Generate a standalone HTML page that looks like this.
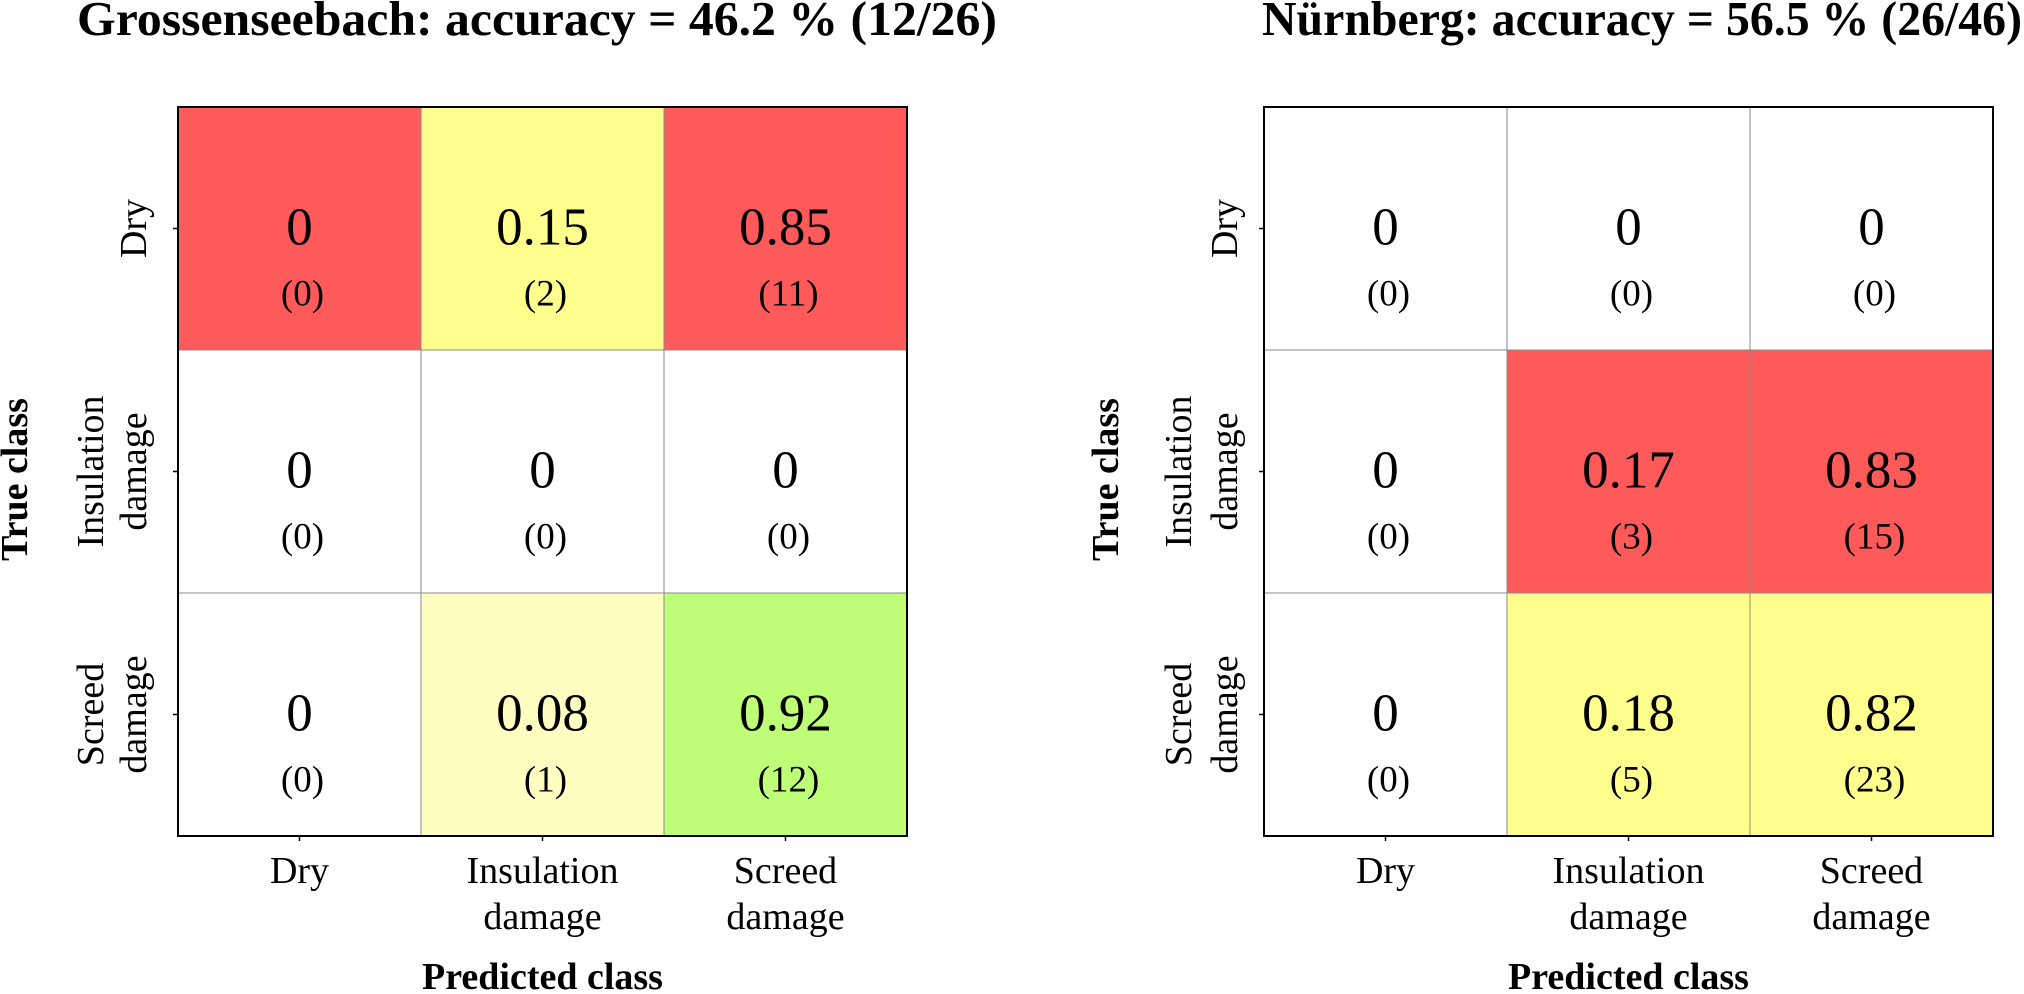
<!DOCTYPE html>
<html><head><meta charset="utf-8"><style>
html,body{margin:0;padding:0;background:#fff;}
svg{display:block;font-family:"Liberation Serif",serif;}
</style></head><body>
<svg id="chart" width="2024" height="994" viewBox="0 0 2024 994"></svg>
<script>
const classes = ["Dry", "Insulation damage", "Screed damage"];
const titlesArr = ["Grossenseebach: accuracy = 46.2 % (12/26)", "Nürnberg: accuracy = 56.5 % (26/46)"];
const ratiosA = [[0, 0.15, 0.85], [0, 0, 0], [0, 0.08, 0.92]];
const countsA = [[0, 2, 11], [0, 0, 0], [0, 1, 12]];
const colorsA = [["#ff5a5a", "#ffff8e", "#ff5a5a"], ["#ffffff", "#ffffff", "#ffffff"], ["#ffffff", "#ffffc2", "#bfff78"]];
const ratiosB = [[0, 0, 0], [0, 0.17, 0.83], [0, 0.18, 0.82]];
const countsB = [[0, 0, 0], [0, 3, 15], [0, 5, 23]];
const colorsB = [["#ffffff", "#ffffff", "#ffffff"], ["#ffffff", "#ff5a5a", "#ff5a5a"], ["#ffffff", "#ffff8e", "#ffff8e"]];

const NS = "http://www.w3.org/2000/svg";
const svg = document.getElementById("chart");
function mk(tag, attrs, parent, text) {
  const e = document.createElementNS(NS, tag);
  for (const k in attrs) e.setAttribute(k, attrs[k]);
  if (text !== undefined) e.textContent = text;
  (parent || svg).appendChild(e);
  return e;
}
function fmt(v) { return v === 0 ? "0" : v.toFixed(2); }

const panels = [
  {x0: 178, title: titlesArr[0], tx: 77, tw: 920, ratios: ratiosA, counts: countsA, colors: colorsA, yl1: 103, yl2: 146, ylab: 27},
  {x0: 1264, title: titlesArr[1], tx: 1262, tw: 760, ratios: ratiosB, counts: countsB, colors: colorsB, yl1: 1191, yl2: 1237, ylab: 1118}
];
const y0 = 107, size = 729, n = classes.length, cell = size / n;

panels.forEach((p, pi) => {
  const g = mk("g", {});
  
  
  const xs = i => p.x0 + i * cell;
  const ys = j => y0 + j * cell;

  const t = mk("text", {x: p.tx, y: 35, "font-size": 49, "font-weight": "bold", textLength: p.tw, lengthAdjust: "spacingAndGlyphs"}, g, p.title);
  
  

  for (let r = 0; r < n; r++) for (let c = 0; c < n; c++) {
    const rect = mk("rect", {x: xs(c), y: ys(r), width: cell, height: cell, fill: p.colors[r][c], stroke: "#888", "stroke-width": 1}, g);
    
    
    const cx = xs(c) + cell / 2, cy = ys(r) + cell / 2;
    const v = mk("text", {x: cx, y: cy + 16, "font-size": 53, "text-anchor": "middle"}, g, fmt(p.ratios[r][c]));
    
    
    const ct = mk("text", {x: cx + 3, y: cy + 77, "font-size": 37, "text-anchor": "middle"}, g, "(" + p.counts[r][c] + ")");
    
    
  }
  const border = mk("rect", {x: p.x0, y: y0, width: size, height: size, fill: "none", stroke: "#000", "stroke-width": 2}, g);
  
  

  classes.forEach((name, i) => {
    const cx = xs(i) + cell / 2, cy = ys(i) + cell / 2;
    mk("line", {x1: cx, y1: y0 + size, x2: cx, y2: y0 + size + 5, stroke: "#000", "stroke-width": 1.5}, g);
    mk("line", {x1: p.x0 - 5, y1: cy, x2: p.x0, y2: cy, stroke: "#000", "stroke-width": 1.5}, g);
    const parts = name.split(" ");
    const xl = mk("text", {x: cx, y: 883, "font-size": 38, "text-anchor": "middle"}, g);
    
    
    parts.forEach((w, k) => mk("tspan", {x: cx, y: 883 + k * 46}, xl, w));
    const yl = mk("text", {"font-size": 38, "text-anchor": "middle"}, g);
    
    
    if (parts.length === 1) {
      yl.setAttribute("transform", "translate(" + p.yl2 + "," + cy + ") rotate(-90)");
      mk("tspan", {x: 0, y: 0}, yl, parts[0]);
    } else {
      yl.setAttribute("transform", "translate(" + p.yl1 + "," + cy + ") rotate(-90)");
      mk("tspan", {x: 0, y: 0}, yl, parts[0]);
      mk("tspan", {x: 0, y: p.yl2 - p.yl1}, yl, parts[1]);
    }
  });

  const xt = mk("text", {x: p.x0 + size / 2, y: 989, "font-size": 38, "font-weight": "bold", "text-anchor": "middle"}, g, "Predicted class");
  
  
  const yt = mk("text", {"font-size": 38, "font-weight": "bold", "text-anchor": "middle", transform: "translate(" + p.ylab + "," + (y0 + size / 2 + 8) + ") rotate(-90)"}, g, "True class");
  
  
});
</script>
</body></html>
